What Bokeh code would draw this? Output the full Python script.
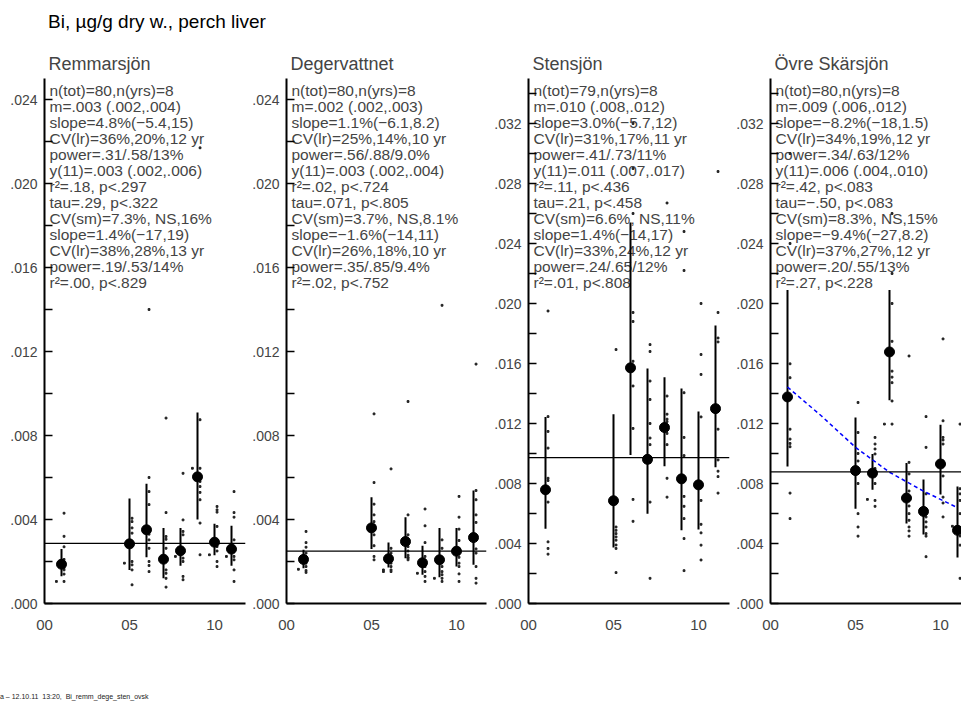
from bokeh.plotting import figure
from bokeh.models import Span, Label, FixedTicker, CustomJSTickFormatter, Title, Div, Range1d
from bokeh.layouts import row, column
from bokeh.embed import file_html
from bokeh.resources import INLINE

FONT = "Liberation Sans"
MAIN_TITLE = "Bi, µg/g dry w., perch liver"
FOOTER = "a – 12.10.11  13:20,  Bi_remm_dege_sten_ovsk"

YEARS = [2001, 2005, 2006, 2007, 2008, 2009, 2010, 2011]
X_TICKS = [2000, 2005, 2010]

SITES = ["Remmarsjön", "Degervattnet", "Stensjön", "Övre Skärsjön"]
Y_MAX = [0.025, 0.025, 0.035, 0.035]
Y_TICKS_LOW = [0.000, 0.004, 0.008, 0.012, 0.016, 0.020, 0.024]
Y_MINOR_LOW = [0.002, 0.006, 0.010, 0.014, 0.018, 0.022]
Y_TICKS_HIGH = [0.000, 0.004, 0.008, 0.012, 0.016, 0.020, 0.024, 0.028, 0.032]
Y_MINOR_HIGH = [0.002, 0.006, 0.010, 0.014, 0.018, 0.022, 0.026, 0.030, 0.034]

# yearly geometric means and confidence limits (in thousandths, ug/g)
MEAN_REMM = [1.87, 2.84, 3.51, 2.11, 2.51, 6.03, 2.92, 2.59]
LO_REMM = [1.30, 1.60, 2.20, 1.20, 1.80, 4.00, 2.30, 1.80]
HI_REMM = [2.60, 5.00, 5.70, 3.60, 3.60, 9.10, 3.80, 3.70]

MEAN_DEGE = [2.10, 3.60, 2.13, 2.95, 1.94, 2.08, 2.49, 3.14]
LO_DEGE = [1.68, 2.59, 1.71, 2.16, 1.37, 1.25, 1.76, 1.84]
HI_DEGE = [2.56, 5.06, 2.90, 4.11, 2.75, 3.59, 3.59, 5.38]

MEAN_STEN = [7.58, 6.85, 15.71, 9.61, 11.73, 8.31, 7.91, 12.99]
LO_STEN = [4.99, 3.73, 9.90, 5.99, 9.15, 4.88, 4.93, 9.08]
HI_STEN = [12.44, 12.62, 25.40, 15.67, 15.09, 14.34, 12.80, 18.54]

MEAN_OVSK = [13.77, 8.86, 8.69, 16.77, 7.03, 6.14, 9.30, 4.88]
LO_OVSK = [9.13, 6.32, 7.58, 13.55, 5.33, 4.60, 7.27, 3.07]
HI_OVSK = [20.90, 12.40, 9.97, 20.90, 9.37, 8.27, 11.91, 7.80]

OVERALL_MEAN = [2.86, 2.49, 9.72, 8.77]

# individual fish (thousandths), per year; main column and a few shifted left
DOTS_REMM = [
    [4.3, 3.2, 2.7, 2.1, 1.9, 1.8, 1.7, 1.6, 1.4, 1.05],
    [4.06, 3.9, 3.6, 3.35, 2.87, 2.0, 1.84, 1.6, 0.89],
    [14.0, 6.0, 5.33, 4.71, 3.3, 3.03, 2.63, 2.0, 1.81, 1.52],
    [8.83, 4.33, 3.19, 3.06, 2.63, 2.2, 1.6, 1.44, 1.2, 0.78],
    [6.2, 3.98, 3.43, 3.27, 2.48, 2.16, 2.0, 1.29, 1.13],
    [21.7, 8.75, 6.44, 5.81, 5.57, 5.29, 4.94, 3.83, 2.32],
    [4.62, 4.46, 4.35, 3.67, 3.03, 2.71, 2.5, 2.0, 1.76],
    [5.33, 4.33, 4.11, 3.03, 2.63, 2.24, 2.08, 1.6, 1.05],
]
LEFT_REMM = [[1.05], [1.92], [], [], [2.24], [6.44], [2.32], [2.24]]

DOTS_DEGE = [
    [3.43, 2.9, 2.68, 2.4, 2.1, 1.92, 1.76, 1.57, 1.48],
    [9.03, 5.76, 4.73, 4.22, 3.9, 3.5, 3.27, 2.75, 2.24, 2.08],
    [6.41, 2.63, 2.4, 2.16, 1.92, 1.76, 1.6, 1.52],
    [9.62, 4.22, 3.27, 3.0, 2.71, 2.5, 2.3, 2.2, 2.16, 2.08],
    [4.5, 3.7, 2.9, 2.24, 1.9, 1.76, 1.52, 1.29, 1.05],
    [14.2, 3.03, 2.63, 2.16, 1.76, 1.52, 1.37, 1.2, 1.05],
    [5.1, 4.11, 3.54, 3.0, 2.63, 2.2, 1.92, 1.76, 1.41, 1.05],
    [11.4, 5.38, 4.94, 4.22, 3.86, 2.6, 2.4, 1.76, 1.2, 0.97],
]
LEFT_DEGE = [[1.63], [], [1.6, 1.52], [], [1.44], [1.2], [], []]

DOTS_STEN = [
    [19.5, 12.46, 11.47, 10.36, 8.35, 8.2, 6.76, 4.11, 3.67, 3.29],
    [16.93, 5.1, 4.88, 4.66, 4.44, 4.22, 3.9, 3.67, 2.06],
    [32.0, 29.0, 26.0, 19.4, 18.8, 16.15, 14.5, 11.67, 6.94, 5.48],
    [17.26, 16.8, 14.83, 13.6, 12.0, 11.03, 10.59, 9.41, 6.76, 1.68],
    [26.7, 13.83, 12.62, 12.29, 12.13, 11.85, 11.34, 10.59, 8.35, 7.09],
    [24.8, 22.2, 14.05, 11.07, 9.86, 7.14, 6.48, 5.66, 4.33, 2.19],
    [20.0, 16.6, 15.27, 12.44, 8.0, 6.87, 5.28, 4.71, 3.89, 2.9],
    [28.8, 19.4, 17.7, 17.44, 13.0, 11.62, 9.57, 8.82, 8.46, 7.36],
]
LEFT_STEN = [[], [], [], [], [], [], [], []]

DOTS_OVSK = [
    [30.0, 24.0, 15.98, 15.05, 11.62, 10.96, 10.67, 10.45, 7.36, 5.66],
    [13.4, 11.4, 10.0, 9.5, 8.97, 8.75, 8.0, 5.99, 5.1, 4.49],
    [11.07, 10.63, 10.3, 9.97, 9.0, 8.5, 8.0, 6.87, 6.48],
    [26.0, 22.0, 17.48, 15.49, 15.09, 14.72, 13.5, 11.96, 20.0],
    [16.5, 9.41, 8.64, 7.5, 6.5, 5.99, 5.55, 5.1, 4.84, 4.49],
    [12.46, 10.41, 7.31, 6.0, 5.77, 5.44, 5.1, 4.66, 4.49, 3.12],
    [17.64, 12.18, 11.07, 10.9, 10.63, 9.5, 8.5, 7.09, 6.7, 5.77],
    [11.96, 7.65, 7.31, 6.87, 5.99, 5.0, 4.5, 3.89, 1.68],
]
LEFT_OVSK = [[], [], [6.94], [11.96], [], [], [], [5.15]]

# fitted log-linear trend, Övre Skärsjön
TREND_YEARS = [2001, 2003, 2005, 2007, 2009, 2011]
TREND_OVSK = [14.43, 12.50, 10.41, 8.75, 7.49, 6.39]

STATS = [
    ["n(tot)=80,n(yrs)=8", "m=.003 (.002,.004)", "slope=4.8%(\u22125.4,15)",
     "CV(lr)=36%,20%,12 yr", "power=.31/.58/13%", "y(11)=.003 (.002,.006)",
     "r\u00b2=.18, p<.297", "tau=.29, p<.322", "CV(sm)=7.3%, NS,16%",
     "slope=1.4%(\u221217,19)", "CV(lr)=38%,28%,13 yr", "power=.19/.53/14%",
     "r\u00b2=.00, p<.829"],
    ["n(tot)=80,n(yrs)=8", "m=.002 (.002,.003)", "slope=1.1%(\u22126.1,8.2)",
     "CV(lr)=25%,14%,10 yr", "power=.56/.88/9.0%", "y(11)=.003 (.002,.004)",
     "r\u00b2=.02, p<.724", "tau=.071, p<.805", "CV(sm)=3.7%, NS,8.1%",
     "slope=\u22121.6%(\u221214,11)", "CV(lr)=26%,18%,10 yr", "power=.35/.85/9.4%",
     "r\u00b2=.02, p<.752"],
    ["n(tot)=79,n(yrs)=8", "m=.010 (.008,.012)", "slope=3.0%(\u22125.7,12)",
     "CV(lr)=31%,17%,11 yr", "power=.41/.73/11%", "y(11)=.011 (.007,.017)",
     "r\u00b2=.11, p<.436", "tau=.21, p<.458", "CV(sm)=6.6%, NS,11%",
     "slope=1.4%(\u221214,17)", "CV(lr)=33%,24%,12 yr", "power=.24/.65/12%",
     "r\u00b2=.01, p<.808"],
    ["n(tot)=80,n(yrs)=8", "m=.009 (.006,.012)", "slope=\u22128.2%(\u221218,1.5)",
     "CV(lr)=34%,19%,12 yr", "power=.34/.63/12%", "y(11)=.006 (.004,.010)",
     "r\u00b2=.42, p<.083", "tau=\u2212.50, p<.083", "CV(sm)=8.3%, NS,15%",
     "slope=\u22129.4%(\u221227,8.2)", "CV(lr)=37%,27%,12 yr", "power=.20/.55/13%",
     "r\u00b2=.27, p<.228"],
]

MEANS = [MEAN_REMM, MEAN_DEGE, MEAN_STEN, MEAN_OVSK]
LOS = [LO_REMM, LO_DEGE, LO_STEN, LO_OVSK]
HIS = [HI_REMM, HI_DEGE, HI_STEN, HI_OVSK]
DOTS = [DOTS_REMM, DOTS_DEGE, DOTS_STEN, DOTS_OVSK]
LEFTS = [LEFT_REMM, LEFT_DEGE, LEFT_STEN, LEFT_OVSK]

# ---- layout constants ----
FIG_W = [248, 242, 242, 229]
BORDER_L = [44, 38, 38, 38]
BORDER_R = [3, 4, 3, 0]
FIG_H = 661
BORDER_T = 46
BORDER_B = 90
PX_PER_YEAR = 17.0
K = 0.001
DOT_DX = 0.15
LEFT_DX = -0.3

sy = CustomJSTickFormatter(code="return tick.toFixed(3).replace(/^0/, '');")
sx = CustomJSTickFormatter(code="return String(Math.round(tick) % 100).padStart(2, '0');")

figs = []
for i in range(4):
    frame_w = FIG_W[i] - BORDER_L[i] - BORDER_R[i]
    frame_h = FIG_H - BORDER_T - BORDER_B
    x_end = 2000 + frame_w / PX_PER_YEAR
    p = figure(width=FIG_W[i], height=FIG_H, output_backend="svg", toolbar_location=None,
               x_range=Range1d(2000, x_end), y_range=Range1d(0, Y_MAX[i]),
               min_border_left=BORDER_L[i], min_border_right=BORDER_R[i],
               min_border_top=BORDER_T, min_border_bottom=BORDER_B)
    p.add_layout(Title(text=SITES[i], text_font=FONT, text_font_size="18px",
                       text_font_style="normal", align="left", offset=4), "above")
    p.grid.visible = False
    p.outline_line_color = None
    p.background_fill_color = "white"
    p.border_fill_color = "white"

    xa = p.xaxis[0]
    xa.ticker = FixedTicker(ticks=X_TICKS)
    xa.formatter = sx
    xa.axis_line_width = 2
    xa.major_tick_in = 0
    xa.major_tick_out = 0
    xa.minor_tick_line_color = None
    xa.major_label_standoff = 16
    xa.major_label_text_font = FONT
    xa.major_label_text_font_size = "15px"

    ya = p.yaxis[0]
    hi_range = Y_MAX[i] > 0.03
    ya.ticker = FixedTicker(ticks=(Y_TICKS_HIGH if hi_range else Y_TICKS_LOW),
                            minor_ticks=(Y_MINOR_HIGH if hi_range else Y_MINOR_LOW))
    ya.formatter = sy
    ya.axis_line_width = 2
    ya.major_tick_in = 8
    ya.major_tick_out = 0
    ya.minor_tick_in = 8
    ya.minor_tick_out = 0
    ya.major_tick_line_width = 1.5
    ya.minor_tick_line_width = 1.5
    ya.major_label_standoff = 7
    ya.major_label_text_font = FONT
    ya.major_label_text_font_size = "14px"

    p.add_layout(Label(x=5, y=frame_h - 3, x_units="screen", y_units="screen",
                       text="\n".join(STATS[i]), text_font=FONT, text_font_size="15.5px",
                       text_baseline="top", text_align="left", text_line_height=0.945,
                       level="underlay"))

    p.add_layout(Span(location=OVERALL_MEAN[i] * K, dimension="width",
                      line_color="black", line_width=1.3))

    dx, dy = [], []
    for yr, vals in zip(YEARS, DOTS[i]):
        for v in vals:
            dx.append(yr + DOT_DX)
            dy.append(v * K)
    for yr, vals in zip(YEARS, LEFTS[i]):
        for v in vals:
            dx.append(yr + LEFT_DX)
            dy.append(v * K)
    p.scatter(dx, dy, marker="square", size=1.8, color="#222222")

    p.segment(x0=YEARS, y0=[v * K for v in LOS[i]], x1=YEARS, y1=[v * K for v in HIS[i]],
              line_color="black", line_width=2)
    p.scatter(YEARS, [v * K for v in MEANS[i]], size=10, color="black")

    if i == 3:
        p.line(TREND_YEARS, [v * K for v in TREND_OVSK], line_color="blue",
               line_dash="4 3", line_width=1.5)
    figs.append(p)

title_div = Div(text=MAIN_TITLE, width=400, height=20, margin=(12, 0, 0, 48),
                styles={"font-size": "19px", "font-family": FONT, "white-space": "pre",
                        "line-height": "20px", "color": "black"})
footer = Div(text=FOOTER, width=400, height=8, margin=(0, 0, 0, 0),
             styles={"font-size": "7px", "font-family": FONT, "white-space": "pre",
                     "line-height": "8px", "color": "#222"})

layout = column(title_div, row(*figs, spacing=0), footer, spacing=0)
open("out.html", "w").write(file_html(layout, INLINE))
